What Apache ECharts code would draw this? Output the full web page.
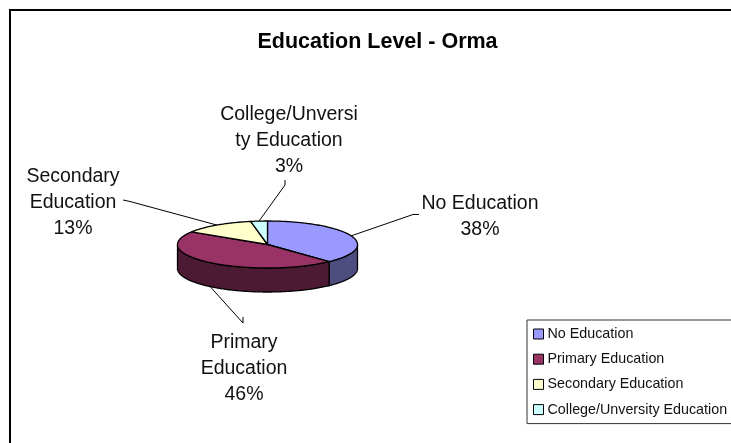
<!DOCTYPE html>
<html><head><meta charset="utf-8">
<style>html,body{margin:0;padding:0;background:#fff}#c{width:731px;height:443px}</style>
<script src="https://cdn.jsdelivr.net/npm/echarts@6/dist/echarts.min.js"></script>
</head><body><div id="c"></div>
<script>
const categories = ['No Education','Primary Education','Secondary Education','College/Unversity Education'];
const values = [38,46,13,3];
const labelTexts = ['No Education\n38%','Primary\nEducation\n46%','Secondary\nEducation\n13%','College/Unversi\nty Education\n3%'];
const topColors = ['#9999FF','#993366','#FFFFCC','#CCFFFF'];
const sideColors = ['#4D4D80','#4D1A33','#808066','#668080'];
const PIE = {cx:267.5, cy:244.5, rx:90, ry:23.5, depth:24};
const LABELS = [
  {x:480,y:217,elbow:[[413,214.5],[419,214.5]]},
  {x:244,y:369,elbow:[[243,317],[243,323]]},
  {x:73,y:203,elbow:[[130,201.5],[123,200]]},
  {x:289,y:141,elbow:[[285,180],[285,185]]}
];
const total = values.reduce((a,b)=>a+b,0);
let acc = 0;
const starts = values.map(v=>{const s=acc;acc+=v;return s;});

function pt(deg,dy){const r=deg*Math.PI/180;return [PIE.cx+PIE.rx*Math.sin(r),PIE.cy-PIE.ry*Math.cos(r)+(dy||0)];}
function arc(a,b,dy){const n=Math.max(2,Math.ceil(Math.abs(b-a)));const o=[];for(let i=0;i<=n;i++)o.push(pt(a+(b-a)*i/n,dy));return o;}

function makeRender(i){
  return function(params,api){
    const v=api.value(0), s=api.value(1);
    const a=s/total*360, b=(s+v)/total*360, mid=(a+b)/2;
    const children=[];
    const fa=Math.max(a,90), fb=Math.min(b,270);
    if(fb>fa){
      const upper=arc(fa,fb,0), lower=arc(fb,fa,PIE.depth);
      children.push({type:'polygon',shape:{points:upper.concat(lower)},
        style:{fill:sideColors[i],stroke:'#000',lineWidth:1.3}});
    }
    children.push({type:'polygon',shape:{points:[[PIE.cx,PIE.cy]].concat(arc(a,b,0))},
      style:{fill:topColors[i],stroke:'#000',lineWidth:1.3,lineJoin:'round'}});
    const front=mid>90&&mid<270;
    const anchor=pt(mid,front?PIE.depth:0);
    const L=LABELS[i];
    const far=L.elbow[0], near=L.elbow[1];
    children.push({type:'polyline',shape:{points:i===1||i===3?[anchor,near,far]:[anchor,far,near]},
      style:{fill:null,stroke:'#000',lineWidth:1}});
    children.push({type:'text',style:{text:labelTexts[i],x:L.x,y:L.y,align:'center',verticalAlign:'middle',
      fill:'#111',font:'19.5px "Liberation Sans", Arial, sans-serif',lineHeight:26}});
    return {type:'group',children};
  };
}

const chart = echarts.init(document.getElementById('c'),null,{renderer:'canvas'});
chart.setOption({
  animation:false,
  backgroundColor:'#fff',
  title:{text:'Education Level - Orma',left:372.5,top:26,textAlign:'center',
    textStyle:{fontFamily:'"Liberation Sans", Arial, sans-serif',fontWeight:'bold',fontSize:21.5,color:'#000'}},
  legend:{orient:'vertical',left:527,top:320,align:'left',padding:[7,60,7,6],itemGap:11.2,itemWidth:10,itemHeight:10,
    backgroundColor:'#fff',borderColor:'#333',borderWidth:1,borderRadius:0,icon:'rect',
    itemStyle:{borderColor:'#000',borderWidth:1},
    textStyle:{fontFamily:'"Liberation Sans", Arial, sans-serif',fontSize:14.3,color:'#111',padding:[0,0,0,-1]},
    data:categories},
  graphic:[{type:'polyline',silent:true,z:-1,shape:{points:[[10,443],[10,10],[731,10]]},
    style:{fill:null,stroke:'#000',lineWidth:2}}],
  series:categories.map((name,i)=>({
    type:'custom',name,coordinateSystem:'none',
    itemStyle:{color:topColors[i]},
    data:[[values[i],starts[i]]],
    renderItem:makeRender(i)
  }))
});
</script></body></html>
